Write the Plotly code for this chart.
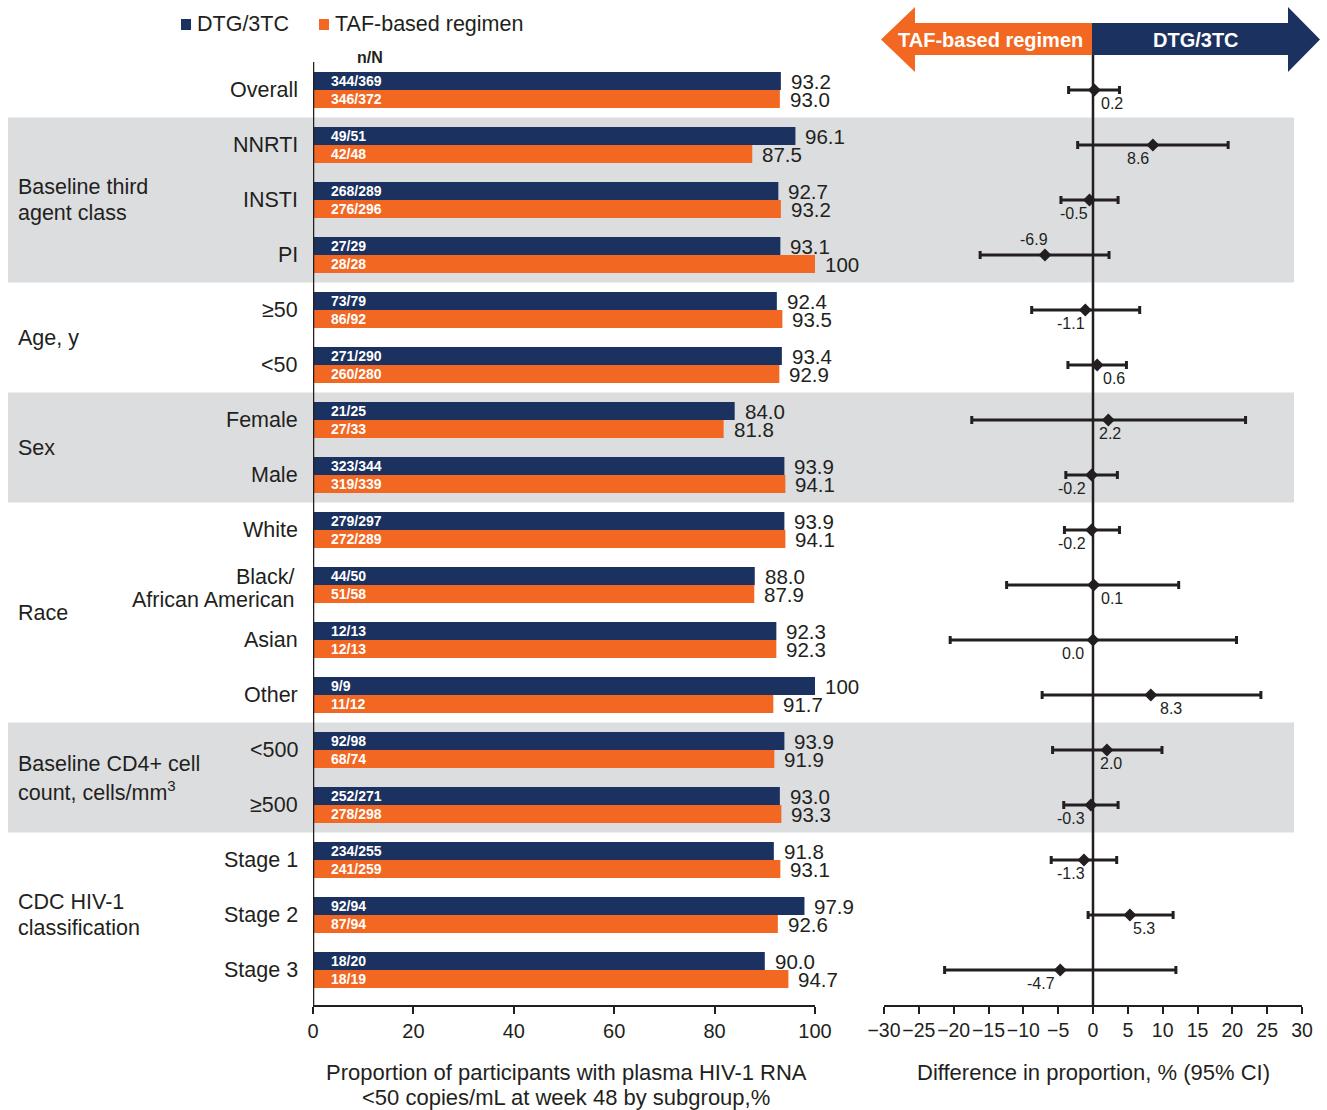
import plotly.graph_objects as go

# ---------------- data ----------------
subgroups = ["Overall", "NNRTI", "INSTI", "PI", "≥50", "&lt;50", "Female", "Male",
             "White", "Black/<br>African American", "Asian", "Other", "&lt;500", "≥500",
             "Stage 1", "Stage 2", "Stage 3"]
dtg_nN = ["344/369", "49/51", "268/289", "27/29", "73/79", "271/290", "21/25", "323/344",
          "279/297", "44/50", "12/13", "9/9", "92/98", "252/271", "234/255", "92/94", "18/20"]
taf_nN = ["346/372", "42/48", "276/296", "28/28", "86/92", "260/280", "27/33", "319/339",
          "272/289", "51/58", "12/13", "11/12", "68/74", "278/298", "241/259", "87/94", "18/19"]
dtg_pct = [93.2, 96.1, 92.7, 93.1, 92.4, 93.4, 84.0, 93.9, 93.9, 88.0, 92.3, 100, 93.9, 93.0, 91.8, 97.9, 90.0]
taf_pct = [93.0, 87.5, 93.2, 100, 93.5, 92.9, 81.8, 94.1, 94.1, 87.9, 92.3, 91.7, 91.9, 93.3, 93.1, 92.6, 94.7]
diff = [0.2, 8.6, -0.5, -6.9, -1.1, 0.6, 2.2, -0.2, -0.2, 0.1, 0.0, 8.3, 2.0, -0.3, -1.3, 5.3, -4.7]
ci_low = [-3.5, -2.2, -4.6, -16.2, -8.8, -3.6, -17.4, -3.9, -4.1, -12.4, -20.5, -7.3, -5.8, -4.2, -6.0, -0.7, -21.3]
ci_high = [3.8, 19.4, 3.6, 2.3, 6.7, 4.8, 21.9, 3.5, 3.8, 12.3, 20.6, 24.1, 9.9, 3.6, 3.4, 11.5, 11.9]
group_names = ["", "Baseline third<br>agent class", "Age, y", "Sex", "Race",
               "Baseline CD4+ cell<br>count, cells/mm<sup>3</sup>", "CDC HIV-1<br>classification"]
group_first = [0, 1, 4, 6, 8, 12, 14]
group_last = [0, 3, 5, 7, 11, 13, 16]
bar_ticks = [0, 20, 40, 60, 80, 100]
diff_ticks = [-30, -25, -20, -15, -10, -5, 0, 5, 10, 15, 20, 25, 30]

# ---------------- style / layout tweaks ----------------
W, H = 1327, 1110
NAVY = "#1b3160"
ORANGE = "#f26722"
TXT = "#231f20"
BAND = "#dcdddf"
FONT = "Liberation Sans, Arial, sans-serif"
# label nudges (px) for the difference values
lab_dx = [18, -15, -16, -11, -14, 17, 2, -20, -20, 18, -20, 20, 4, -20, -13, 14, -19]
lab_dy = [13, 13, 13, -16, 13, 13, 13, 13, 13, 13, 13, 13, 13, 13, 13, 13, 13]


def px(x):
    return x / W


def py(y):
    return 1 - y / H


def text_ann(x, y, text, size, color=TXT, xanchor="center", yanchor="middle", align="center", **kw):
    return dict(x=x, y=y, text=text, showarrow=False, xanchor=xanchor, yanchor=yanchor,
                align=align, font=dict(size=size, color=color, family=FONT), **kw)


def multiline(x, y, text, size, step, xanchor, extra_shift=0, **kw):
    """Place each line of a label separately so that the line spacing can be set."""
    lines = text.split("<br>")
    n = len(lines)
    out = []
    for i, ln in enumerate(lines):
        off = (i - (n - 1) / 2) * step + extra_shift
        out.append(text_ann(x, y, ln, size, xanchor=xanchor, align=xanchor, yshift=-off, **kw))
    return out


rows = list(range(len(subgroups)))
half = 0.1636
bw = 0.327

fig = go.Figure()
fig.add_trace(go.Bar(x=dtg_pct, y=[r - half for r in rows], orientation="h", width=bw,
                     marker=dict(color=NAVY, line=dict(width=0)), xaxis="x", yaxis="y",
                     showlegend=False, hoverinfo="skip"))
fig.add_trace(go.Bar(x=taf_pct, y=[r + half for r in rows], orientation="h", width=bw,
                     marker=dict(color=ORANGE, line=dict(width=0)), xaxis="x", yaxis="y",
                     showlegend=False, hoverinfo="skip"))
fig.add_trace(go.Scatter(
    x=diff, y=rows, mode="markers", xaxis="x2", yaxis="y",
    marker=dict(symbol="diamond", size=10, color=TXT),
    error_x=dict(type="data", symmetric=False,
                 array=[h - d for h, d in zip(ci_high, diff)],
                 arrayminus=[d - l for d, l in zip(diff, ci_low)],
                 thickness=3, width=4, color=TXT),
    showlegend=False, hoverinfo="skip"))

ann = []
shapes = []

# shaded group bands + group labels
for gi, (a, b) in enumerate(zip(group_first, group_last)):
    if gi % 2 == 1:
        shapes.append(dict(type="rect", xref="paper", yref="y", x0=px(8), x1=px(1294),
                           y0=a - 0.5, y1=b + 0.5, fillcolor=BAND, line=dict(width=0),
                           layer="below"))
    if group_names[gi]:
        ann += multiline(px(16), (a + b) / 2, group_names[gi], 21.5, 26.5, "left",
                         xref="paper", yref="y")

# subgroup labels
for r, name in zip(rows, subgroups):
    if "<br>" in name:
        ann += multiline(px(297), r, name, 21.5, 23, "right", extra_shift=3,
                         xref="paper", yref="y")
    else:
        ann.append(text_ann(px(300), r, name, 21.5, xanchor="right", align="right",
                            xref="paper", yref="y"))

# bar labels
for r, v1, v2, n1, n2 in zip(rows, dtg_pct, taf_pct, dtg_nN, taf_nN):
    for v, n, yy in ((v1, n1, r - half), (v2, n2, r + half)):
        ann.append(text_ann(v, yy, f"{v:g}" if v == 100 else f"{v:.1f}", 20.5,
                            xanchor="left", xshift=8, xref="x", yref="y"))
        ann.append(text_ann(0, yy, f"<b>{n}</b>", 14, color="white",
                            xanchor="left", xshift=16, xref="x", yref="y"))

# difference labels
for r, d, dx, dy in zip(rows, diff, lab_dx, lab_dy):
    ann.append(text_ann(d, r, f"{d:.1f}", 16, xshift=dx, yshift=-dy, xref="x2", yref="y"))

# n/N header
ann.append(text_ann(px(370), py(57), "<b>n/N</b>", 16, xref="paper", yref="paper"))

# legend
shapes.append(dict(type="rect", xref="paper", yref="paper", x0=px(181), x1=px(191),
                   y0=py(30), y1=py(19), fillcolor=NAVY, line=dict(width=0)))
shapes.append(dict(type="rect", xref="paper", yref="paper", x0=px(319), x1=px(329),
                   y0=py(30), y1=py(19), fillcolor=ORANGE, line=dict(width=0)))
ann.append(text_ann(px(195), py(24.5), "DTG/3TC", 21.5, xanchor="left", xref="paper", yref="paper"))
ann.append(text_ann(px(333), py(24.5), "TAF-based regimen", 21.5, xanchor="left",
                    xref="paper", yref="paper"))


# arrows
def path(pts):
    return "M " + " L ".join(f"{px(x):.5f},{py(y):.5f}" for x, y in pts) + " Z"


shapes.append(dict(type="path", xref="paper", yref="paper",
                   path=path([(881, 39.5), (915, 7), (915, 23), (1092, 23), (1092, 55),
                              (915, 55), (915, 72)]),
                   fillcolor=ORANGE, line=dict(width=0)))
shapes.append(dict(type="path", xref="paper", yref="paper",
                   path=path([(1092, 23), (1288, 23), (1288, 7), (1320, 39.5), (1288, 72),
                              (1288, 55), (1092, 55)]),
                   fillcolor=NAVY, line=dict(width=0)))
ann.append(text_ann(px(991), py(40), "<b>TAF-based regimen</b>", 20, color="white",
                    xref="paper", yref="paper"))
ann.append(text_ann(px(1195.5), py(40), "<b>DTG/3TC</b>", 20, color="white",
                    xref="paper", yref="paper"))

# vertical lines
shapes.append(dict(type="line", xref="x", yref="paper", x0=0, x1=0, y0=py(62), y1=py(1005),
                   line=dict(color=TXT, width=2.5)))
shapes.append(dict(type="line", xref="x2", yref="paper", x0=0, x1=0, y0=py(55), y1=py(1005),
                   line=dict(color=TXT, width=2.5)))

# axis titles
ann += multiline(px(566), py(1085),
                 "Proportion of participants with plasma HIV-1 RNA<br>&lt;50 copies/mL at week 48 by subgroup,%",
                 22, 25.5, "center", xref="paper", yref="paper")
ann.append(text_ann(px(1093), py(1072), "Difference in proportion, % (95% CI)", 22,
                    xref="paper", yref="paper"))

axis_common = dict(showgrid=False, zeroline=False, showline=True, linecolor=TXT, linewidth=2,
                   ticks="outside", ticklen=7, tickwidth=2, tickcolor=TXT, tickangle=0,
                   automargin=False,
                   tickfont=dict(size=20, color=TXT, family=FONT), anchor="y")

fig.update_layout(
    width=W, height=H, autosize=False,
    margin=dict(l=0, r=0, t=0, b=0, pad=0, autoexpand=False),
    paper_bgcolor="white", plot_bgcolor="rgba(0,0,0,0)",
    barmode="overlay",
    font=dict(family=FONT, color=TXT),
    xaxis=dict(domain=[px(313), px(815)], range=[0, 100], tickvals=bar_ticks, **axis_common),
    xaxis2=dict(domain=[px(884), px(1302)], range=[-30, 30], tickvals=diff_ticks, **axis_common),
    yaxis=dict(domain=[1 - 1005 / H, 1 - 35 / H], range=[16.636, -1.0], showgrid=False,
               automargin=False,
               zeroline=False, showticklabels=False, showline=False, ticks=""),
    annotations=ann, shapes=shapes,
)
fig.update_layout(xaxis2_tickfont_size=19.5)

post = """
document.documentElement.style.margin='0';document.documentElement.style.padding='0';
document.body.style.margin='0';document.body.style.padding='0';document.body.style.overflow='hidden';
"""

fig.write_html("out.html", config={"displayModeBar": False, "responsive": False},
               post_script=post)
